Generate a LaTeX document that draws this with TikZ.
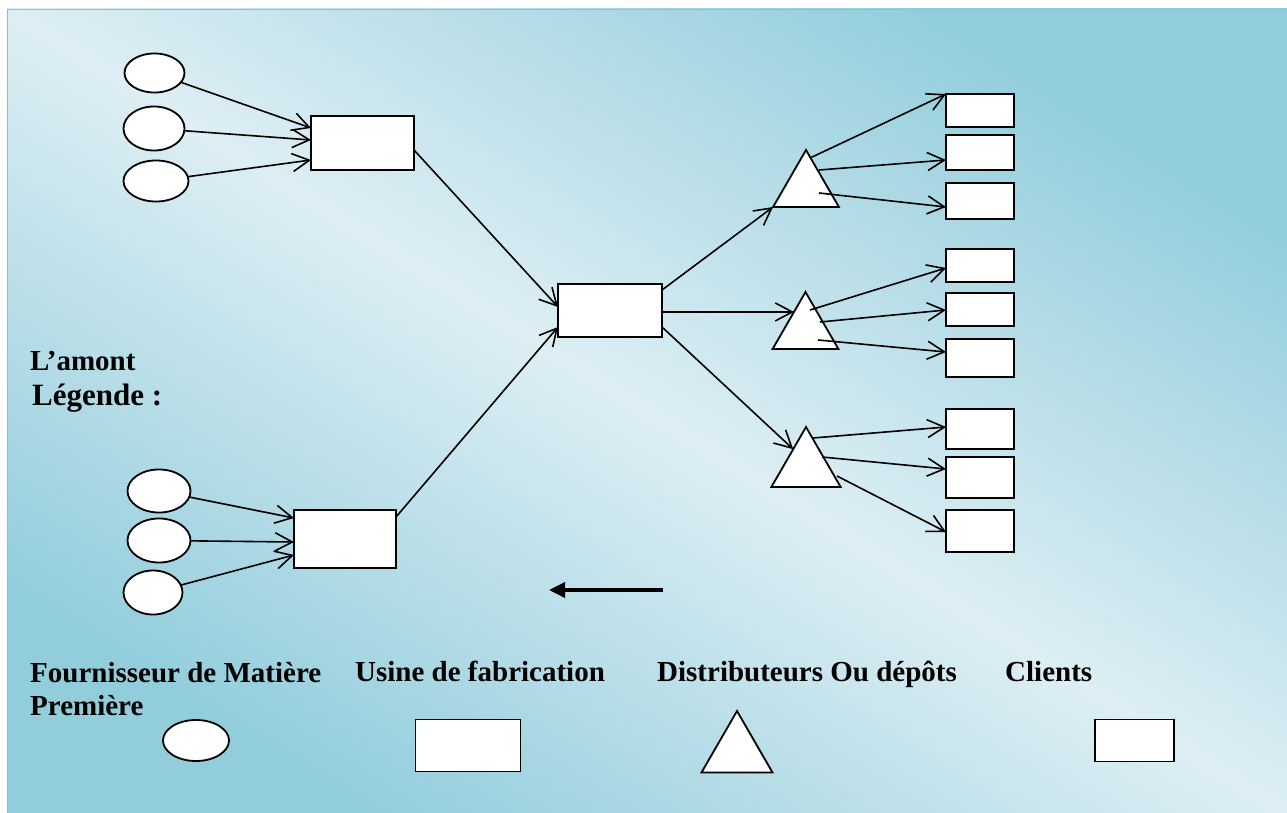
\documentclass[tikz,border=0pt]{standalone}
\usepackage{fontspec}
\setmainfont{Liberation Serif}
\usetikzlibrary{arrows.meta,shapes.geometric,calc}
\definecolor{aqualight}{HTML}{DDEEF4}
\definecolor{aquadark}{HTML}{92CDDC}
\definecolor{aquaedge}{HTML}{86C3D5}
\tikzset{
  shapeline/.style={draw=black, line width=1.8pt, fill=white, inner sep=0pt, outer sep=0pt},
  supplier/.style={shapeline, ellipse},
  plant/.style={shapeline, rectangle},
  depot/.style={shapeline, regular polygon, regular polygon sides=3, minimum size=76pt},
  client/.style={shapeline, rectangle, minimum width=68pt},
  flow/.style={line width=1.6pt, -{Straight Barb[length=17pt,width=18pt]}},
  legendtext/.style={font=\bfseries\fontsize{29}{33}\selectfont, anchor=base west, inner sep=0pt},
}
\begin{document}
\begin{tikzpicture}[x=1pt,y=-1pt]
\useasboundingbox (0,0) rectangle (1287,813);
\fill[white] (0,0) rectangle (1287,813);
% background panel: light along the main diagonal, deeper aqua towards the other two corners
\shade[top color=aquadark, bottom color=aquadark, middle color=aqualight, shading angle=147.87]
  (7,9) rectangle (1287,813);
\draw[aquaedge, line width=1pt] (1287,9.5) -- (7.5,9.5) -- (7.5,813);

% raw material suppliers
\node[supplier, minimum width=60pt, minimum height=39pt] (a1) at (154.5,73) {};
\node[supplier, minimum width=61pt, minimum height=44pt] (a2) at (154,128.5) {};
\node[supplier, minimum width=65pt, minimum height=41pt] (a3) at (156,181) {};
\node[supplier, minimum width=63pt, minimum height=43pt] (b1) at (159,491) {};
\node[supplier, minimum width=63pt, minimum height=44pt] (b2) at (159,540.5) {};
\node[supplier, minimum width=59pt, minimum height=44pt] (b3) at (153,592.5) {};

% plants
\node[plant, minimum width=103pt, minimum height=54pt] (u1) at (362.5,143) {};
\node[plant, minimum width=102pt, minimum height=58pt] (u2) at (345,539) {};
\node[plant, minimum width=104pt, minimum height=53pt] (c) at (610,310.5) {};

% distributors
\node[depot] (t1) at (806,188) {};
\node[depot] (t2) at (805.5,330) {};
\node[depot, minimum size=80pt] (t3) at (806,467) {};

% clients
\node[client, minimum height=33pt] (k11) at (980,110.5) {};
\node[client, minimum height=35pt] (k12) at (980,152.5) {};
\node[client, minimum height=36pt] (k13) at (980,201) {};
\node[client, minimum height=33pt] (k21) at (980,265.5) {};
\node[client, minimum height=33pt] (k22) at (980,309.5) {};
\node[client, minimum height=38pt] (k23) at (980,358) {};
\node[client, minimum height=40pt] (k31) at (980,429) {};
\node[client, minimum height=41pt] (k32) at (980,477.5) {};
\node[client, minimum height=42pt] (k33) at (980,531) {};

% supplier -> plant flows
\draw[flow] (a1) -- ([shift={(0,-15)}]u1.west);
\draw[flow] (a2) -- ([shift={(0,-3)}]u1.west);
\draw[flow] (a3) -- ([shift={(0,17)}]u1.west);
\draw[flow] (b1) -- ([shift={(0,-21)}]u2.west);
\draw[flow] (b2) -- ([shift={(0,3)}]u2.west);
\draw[flow] (b3) -- ([shift={(0,16)}]u2.west);

% plant -> central plant
\draw[flow] ([shift={(0,7)}]u1.east) -- ([shift={(0,-3.5)}]c.west);
\draw[flow] ([shift={(0,-22)}]u2.east) -- ([shift={(0,16.5)}]c.west);

% central plant -> distributors
\draw[flow] ([shift={(0,-20.5)}]c.east) -- (t1.corner 2);
\draw[flow] ([shift={(0,1.5)}]c.east) -- ($(t2.corner 1)!0.35!(t2.corner 2)$);
\draw[flow] ([shift={(0,16.5)}]c.east) -- ($(t3.corner 1)!0.37!(t3.corner 2)$);

% distributors -> clients
\draw[flow] ([shift={(4,-30)}]t1.center) -- (k11.north west);
\draw[flow] ([shift={(13,-18)}]t1.center) -- ([shift={(0,7.5)}]k12.west);
\draw[flow] ([shift={(13,5)}]t1.center) -- ([shift={(0,6)}]k13.west);
\draw[flow] ([shift={(4.5,-20)}]t2.center) -- ([shift={(0,2.5)}]k21.west);
\draw[flow] ([shift={(14.5,-8)}]t2.center) -- ([shift={(0,0.5)}]k22.west);
\draw[flow] ([shift={(12.5,10)}]t2.center) -- ([shift={(0,-6)}]k23.west);
\draw[flow] ([shift={(7,-29)}]t3.center) -- ([shift={(0,-2)}]k31.west);
\draw[flow] ([shift={(16,-10)}]t3.center) -- ([shift={(0,-8.5)}]k32.west);
\draw[flow] ([shift={(31,9)}]t3.center) -- ([shift={(0,1)}]k33.west);

% upstream direction
\coordinate (upstart) at (663,590);
\coordinate (upend) at (549,590);
\draw[line width=3.5pt, -{Triangle[length=16pt,width=15pt]}] (upstart) -- (upend);

% texts
\node[legendtext] (amont) at (30,370) {L’amont};
\node[legendtext, font=\bfseries\fontsize{31}{35}\selectfont] (legende) at (32,405) {Légende :};
\node[legendtext] (lsup) at (30,682) {Fournisseur de Matière};
\node[legendtext] (lsup2) at (30,715) {Première};
\node[legendtext] (lplant) at (355,681) {Usine de fabrication};
\node[legendtext] (ldepot) at (657,681) {Distributeurs Ou dépôts};
\node[legendtext] (lclient) at (1005,681) {Clients};

% legend symbols
\node[supplier, minimum width=66pt, minimum height=41pt] (lgsup) at (196,740.5) {};
\node[plant, minimum width=105pt, minimum height=52pt] (lgplant) at (468,745.5) {};
\node[depot, minimum size=82pt] (lgdepot) at (737,752) {};
\node[client, minimum width=79pt, minimum height=42pt] (lgclient) at (1134.5,740.5) {};
\end{tikzpicture}
\end{document}
